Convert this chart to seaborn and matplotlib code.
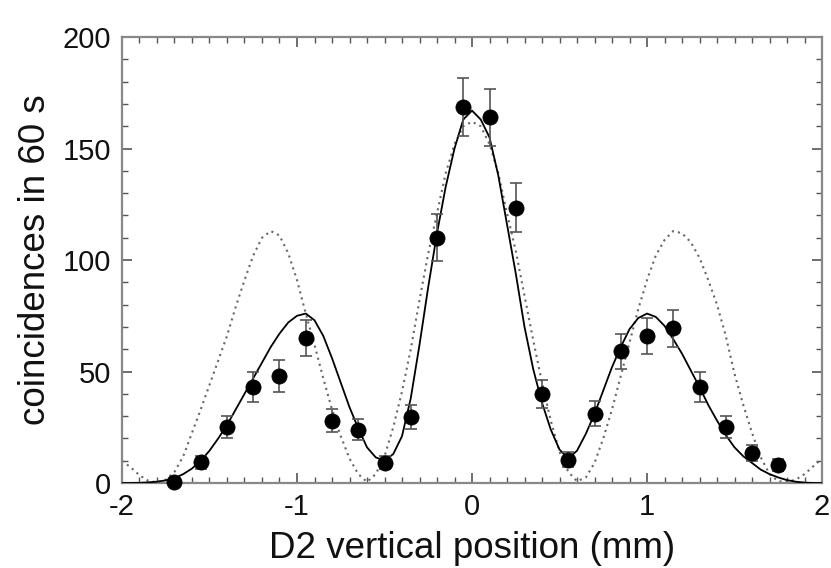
import numpy as np
import pandas as pd
import matplotlib
matplotlib.use("Agg")
import matplotlib.pyplot as plt
import seaborn as sns
from matplotlib.ticker import MultipleLocator

# ---- data ----
positions = [-1.70, -1.55, -1.40, -1.25, -1.10, -0.95, -0.80, -0.65, -0.50, -0.35,
             -0.20, -0.05, 0.10, 0.25, 0.40, 0.55, 0.70, 0.85, 1.00, 1.15,
             1.30, 1.45, 1.60, 1.75]
counts = [0.5, 9.3, 25, 43, 48, 65, 28, 24, 9.2, 29.5,
          110, 168.5, 164, 123.5, 40, 10.5, 31, 59, 66, 69.5,
          43, 25, 13.5, 8]
errors = [1.0, 3.0, 5.0, 6.6, 7.0, 8.2, 5.3, 4.9, 3.0, 5.4,
          10.5, 13.0, 12.8, 11.1, 6.3, 3.2, 5.6, 7.7, 8.1, 8.3,
          6.6, 5.0, 3.7, 2.8]

curve_x = [-2.00, -1.95, -1.90, -1.85, -1.80, -1.75, -1.70, -1.65, -1.60, -1.55,
           -1.50, -1.45, -1.40, -1.35, -1.30, -1.25, -1.20, -1.15, -1.10, -1.05,
           -1.00, -0.95, -0.90, -0.85, -0.80, -0.75, -0.70, -0.65, -0.60, -0.55,
           -0.50, -0.45, -0.40, -0.35, -0.30, -0.25, -0.20, -0.15, -0.10, -0.05,
           0.00, 0.05, 0.10, 0.15, 0.20, 0.25, 0.30, 0.35, 0.40, 0.45,
           0.50, 0.55, 0.60, 0.65, 0.70, 0.75, 0.80, 0.85, 0.90, 0.95,
           1.00, 1.05, 1.10, 1.15, 1.20, 1.25, 1.30, 1.35, 1.40, 1.45,
           1.50, 1.55, 1.60, 1.65, 1.70, 1.75, 1.80, 1.85, 1.90, 1.95,
           2.00]
solid_fit = [0, 0, 0.1, 0.3, 0.6, 1.2, 2.2, 4, 6.5, 10,
             14.5, 20, 26, 33, 40, 47, 54, 61, 67, 72,
             75, 76, 73, 66, 56, 45, 34, 24.5, 16, 11.5,
             10, 13, 21, 38, 62, 88, 112, 133, 150, 163,
             167, 163, 155, 138, 116, 94, 70, 51, 36, 24,
             15, 11, 14.5, 22, 31, 41.5, 52, 61, 69, 74,
             76, 74.5, 70.5, 64.5, 58, 50.5, 43, 35, 28, 21.5,
             16, 12, 9, 6, 4, 2.5, 1.3, 0.6, 0.2, 0,
             0]
dotted_fit = [10, 7, 3.5, 1, 0.3, 1.5, 5, 12, 22.5, 33,
              44, 55, 66, 79, 91, 102, 110, 113, 111, 103,
              91, 76, 62, 47, 33, 21, 11, 4, 0.5, 4,
              12, 25, 41, 60, 82, 103, 121, 139, 152, 160,
              162, 160, 152, 139, 121, 104, 84, 64, 45, 28,
              14, 5, 0.8, 2.5, 9, 20, 33, 48, 63, 78,
              91, 102, 109, 113, 112, 108, 101, 91, 80, 66,
              49, 35, 22.5, 11.5, 4, 0.8, 0.5, 1.5, 4, 7.5,
              11]

x_ticks = [-2, -1, 0, 1, 2]
y_ticks = [0, 50, 100, 150, 200]

# ---- figure ----
sns.set_style("ticks")
plt.rcParams['font.family'] = ['Liberation Sans', 'DejaVu Sans']

fig = plt.figure(figsize=(8.31, 5.68), dpi=100)
ax = fig.add_axes([0.1468, 0.1496, 0.8424, 0.7852])

sns.lineplot(x=curve_x, y=dotted_fit, ax=ax, color='#666666', lw=1.5,
             linestyle=(0, (1, 2.0)), zorder=2)
sns.lineplot(x=curve_x, y=solid_fit, ax=ax, color='black', lw=1.3, zorder=3)

ax.errorbar(positions, counts, yerr=errors, fmt='none', ecolor='#555555',
            elinewidth=1.2, capsize=4, capthick=1.2, zorder=4)
sns.scatterplot(x=positions, y=counts, ax=ax, s=120, color='black',
                edgecolor='black', linewidth=0.5, zorder=5, clip_on=False)

ax.set_xlim(-2, 2)
ax.set_ylim(0, 200)
ax.set_xticks(x_ticks)
ax.set_yticks(y_ticks)
ax.set_xticklabels([str(t) for t in x_ticks])
ax.xaxis.set_minor_locator(MultipleLocator(0.1))
ax.yaxis.set_minor_locator(MultipleLocator(10))
ax.tick_params(which='both', direction='in', top=True, right=True,
               color='#555555', labelsize=21, labelcolor='#111111')
ax.tick_params(which='major', length=7, width=1.2)
ax.tick_params(which='minor', length=4, width=1.0)
ax.tick_params(axis='x', which='major', pad=7)
ax.tick_params(axis='y', which='major', pad=8)
for sp in ax.spines.values():
    sp.set_color('#888888')
    sp.set_linewidth(1.6)

ax.set_xlabel('D2 vertical position (mm)', fontsize=26.5, color='#111111')
ax.set_ylabel('coincidences in 60 s', fontsize=26.5, color='#111111')
ax.xaxis.set_label_coords(0.5, -0.108)
ax.yaxis.set_label_coords(-0.099, 0.5)

fig.savefig('out.png', dpi=100)
